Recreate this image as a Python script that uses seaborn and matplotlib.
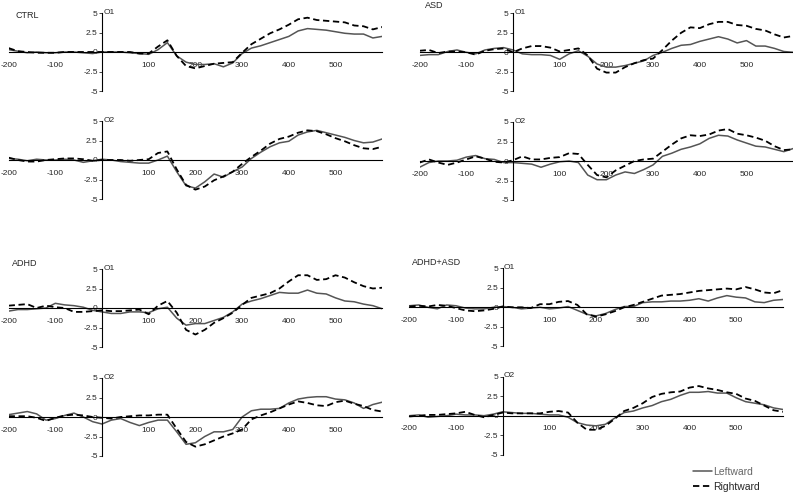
import numpy as np
import pandas as pd
import matplotlib
matplotlib.use("Agg")
import matplotlib.pyplot as plt
from matplotlib.lines import Line2D
import seaborn as sns

# time axis (ms) and ERP amplitudes
time_ms = list(range(-200, 601, 20))

ctrl_o1_left = [0.3, 0.1, -0.1, 0.0, -0.1, -0.1, 0.0, 0.0, -0.1, -0.2, 0.0, 0.0, 0.0, -0.1, -0.2, -0.3,
                0.3, 1.2, -0.5, -1.3, -1.6, -1.6, -1.5, -1.9, -1.4, -0.2, 0.5, 0.8, 1.2, 1.6, 2.0,
                2.7, 3.0, 2.9, 2.8, 2.6, 2.4, 2.3, 2.3, 1.8, 2.0]
ctrl_o1_right = [0.5, 0.1, 0.0, -0.1, -0.1, -0.1, 0.0, 0.0, 0.0, 0.0, 0.0, 0.0, 0.0, 0.0, -0.2, -0.2,
                 0.7, 1.5, -0.5, -1.8, -2.1, -1.8, -1.5, -1.4, -1.3, -0.1, 1.0, 1.7, 2.4, 2.9, 3.5,
                 4.2, 4.4, 4.1, 4.0, 3.9, 3.8, 3.4, 3.3, 2.9, 3.2]
ctrl_o2_left = [0.2, 0.1, -0.1, 0.1, 0.0, 0.0, 0.1, 0.0, -0.3, -0.1, 0.1, 0.0, -0.2, -0.3, -0.4, -0.4,
                0.0, 0.5, -1.5, -3.3, -3.6, -2.8, -1.8, -2.2, -1.5, -0.9, 0.2, 1.0, 1.7, 2.2, 2.4,
                3.2, 3.6, 3.8, 3.5, 3.2, 2.9, 2.5, 2.2, 2.3, 2.7]
ctrl_o2_right = [0.3, 0.0, -0.2, -0.2, 0.0, 0.1, 0.2, 0.2, 0.1, -0.1, 0.0, 0.0, 0.0, -0.1, 0.0, 0.1,
                 0.9, 1.1, -1.2, -3.2, -3.8, -3.4, -2.6, -2.1, -1.5, -0.5, 0.4, 1.2, 2.1, 2.7, 3.0,
                 3.5, 3.8, 3.7, 3.3, 2.8, 2.4, 1.9, 1.5, 1.4, 1.7]

asd_o1_left = [-0.4, -0.3, -0.3, 0.1, 0.3, 0.0, -0.2, 0.3, 0.5, 0.6, 0.3, -0.2, -0.3, -0.3, -0.4, -0.9,
               -0.2, 0.2, -0.5, -1.5, -1.9, -1.9, -1.7, -1.4, -1.1, -0.4, 0.0, 0.5, 0.9, 1.0, 1.4,
               1.7, 2.0, 1.7, 1.2, 1.5, 0.8, 0.8, 0.5, 0.1, 0.0]
asd_o1_right = [0.2, 0.3, -0.1, 0.1, 0.1, 0.0, -0.3, 0.2, 0.4, 0.5, 0.0, 0.5, 0.8, 0.8, 0.6, 0.1,
                0.3, 0.5, -0.4, -2.1, -2.6, -2.6, -1.9, -1.4, -1.0, -0.8, 0.3, 1.5, 2.5, 3.2, 3.1,
                3.6, 3.9, 3.9, 3.5, 3.4, 3.0, 2.8, 2.3, 1.9, 2.1]
asd_o2_left = [-0.8, -0.2, 0.0, 0.0, 0.1, 0.5, 0.7, 0.3, 0.2, -0.2, -0.2, -0.3, -0.4, -0.8, -0.4, -0.1,
               0.0, -0.2, -1.8, -2.4, -2.4, -1.8, -1.4, -1.6, -1.1, -0.5, 0.6, 1.0, 1.5, 1.8, 2.2,
               2.9, 3.3, 3.2, 2.7, 2.3, 1.9, 1.8, 1.5, 1.2, 1.6]
asd_o2_right = [-0.2, 0.2, -0.2, -0.5, -0.2, 0.2, 0.6, 0.3, -0.1, -0.2, 0.1, 0.6, 0.2, 0.2, 0.4, 0.5,
                1.0, 0.9, -0.5, -1.8, -2.1, -1.2, -0.6, 0.0, 0.2, 0.3, 1.2, 2.1, 2.9, 3.3, 3.2,
                3.4, 3.9, 4.1, 3.5, 3.3, 3.0, 2.6, 1.9, 1.4, 1.5]

adhd_o1_left = [-0.4, -0.2, -0.2, -0.1, 0.0, 0.6, 0.4, 0.3, 0.1, -0.3, -0.5, -0.7, -0.7, -0.5, -0.5, -0.6,
                -0.1, 0.1, -1.3, -2.2, -2.0, -2.0, -1.6, -1.2, -0.5, 0.5, 0.9, 1.2, 1.6, 2.0, 1.9,
                1.9, 2.3, 1.9, 1.8, 1.3, 0.9, 0.8, 0.5, 0.3, -0.1]
adhd_o1_right = [0.3, 0.4, 0.5, 0.0, 0.3, 0.1, 0.0, -0.5, -0.5, -0.4, -0.3, -0.4, -0.4, -0.3, -0.2, -0.8,
                 0.3, 0.9, -0.6, -2.8, -3.4, -2.8, -1.9, -1.3, -0.6, 0.4, 1.3, 1.6, 1.9, 2.5, 3.4,
                 4.2, 4.2, 3.6, 3.7, 4.2, 3.9, 3.3, 2.8, 2.5, 2.6]
adhd_o2_left = [0.3, 0.5, 0.7, 0.4, -0.4, -0.2, 0.2, 0.5, 0.0, -0.6, -0.9, -0.4, -0.2, -0.7, -1.1, -0.7,
                -0.4, -0.4, -1.9, -3.5, -3.3, -2.5, -1.9, -1.9, -1.6, 0.0, 0.8, 1.0, 1.0, 1.1, 1.8,
                2.3, 2.5, 2.6, 2.6, 2.3, 2.2, 1.8, 1.1, 1.6, 1.9]
adhd_o2_right = [0.1, 0.1, 0.1, -0.1, -0.5, -0.1, 0.2, 0.3, 0.2, 0.0, -0.1, -0.2, 0.0, 0.1, 0.2, 0.2,
                 0.3, 0.3, -1.5, -3.2, -3.8, -3.5, -3.0, -2.5, -2.1, -1.6, -0.3, 0.2, 0.6, 1.1, 1.6,
                 2.0, 1.8, 1.5, 1.4, 1.9, 2.1, 1.7, 1.4, 0.9, 0.7]

both_o1_left = [0.2, 0.3, 0.0, -0.2, 0.3, 0.2, -0.1, -0.2, -0.2, 0.0, 0.1, 0.0, -0.2, -0.1, 0.0, -0.2,
                -0.1, 0.1, -0.4, -0.9, -1.1, -0.8, -0.3, 0.1, 0.1, 0.6, 0.7, 0.7, 0.8, 0.8, 0.9,
                1.1, 0.8, 1.2, 1.5, 1.3, 1.2, 0.7, 0.6, 0.9, 1.0]
both_o1_right = [0.1, 0.2, 0.1, 0.3, 0.2, -0.1, -0.4, -0.5, -0.4, -0.2, 0.1, 0.0, 0.0, -0.1, 0.4, 0.4,
                 0.7, 0.8, 0.3, -0.9, -1.2, -0.9, -0.5, 0.0, 0.3, 0.7, 1.1, 1.5, 1.6, 1.7, 1.9,
                 2.1, 2.2, 2.3, 2.4, 2.3, 2.6, 2.3, 1.9, 1.8, 2.2]
both_o2_left = [0.0, 0.1, -0.2, -0.1, 0.0, 0.2, 0.1, 0.1, 0.0, 0.2, 0.5, 0.4, 0.3, 0.3, 0.2, 0.1,
                0.1, -0.2, -0.9, -1.2, -1.3, -1.1, -0.3, 0.4, 0.6, 1.0, 1.3, 1.8, 2.1, 2.6, 3.0,
                3.0, 3.1, 2.9, 2.9, 2.3, 1.8, 1.6, 1.4, 1.0, 0.8]
both_o2_right = [-0.1, 0.0, 0.1, 0.1, 0.2, 0.3, 0.5, 0.1, -0.2, 0.1, 0.4, 0.3, 0.3, 0.3, 0.3, 0.5,
                 0.6, 0.4, -0.9, -1.8, -1.8, -1.3, -0.4, 0.6, 1.0, 1.6, 2.4, 2.8, 3.0, 3.1, 3.6,
                 3.8, 3.5, 3.3, 3.0, 2.8, 2.2, 1.9, 1.3, 0.7, 0.5]

groups = ["CTRL", "ASD", "ADHD", "ADHD+ASD"]
channels = ["O1", "O2"]
directions = ["Leftward", "Rightward"]
x_ticks = [-200, -100, 100, 200, 300, 400, 500]
y_ticks = [-5, -2.5, 0, 2.5, 5]
y_tick_labels = ["-5", "-2.5", "0", "2.5", "5"]

series = {
    ("CTRL", "O1"): (ctrl_o1_left, ctrl_o1_right),
    ("CTRL", "O2"): (ctrl_o2_left, ctrl_o2_right),
    ("ASD", "O1"): (asd_o1_left, asd_o1_right),
    ("ASD", "O2"): (asd_o2_left, asd_o2_right),
    ("ADHD", "O1"): (adhd_o1_left, adhd_o1_right),
    ("ADHD", "O2"): (adhd_o2_left, adhd_o2_right),
    ("ADHD+ASD", "O1"): (both_o1_left, both_o1_right),
    ("ADHD+ASD", "O2"): (both_o2_left, both_o2_right),
}

rows = []
for (g, ch), (left, right) in series.items():
    for d, vals in zip(directions, (left, right)):
        for t, v in zip(time_ms, vals):
            rows.append({"group": g, "channel": ch, "direction": d, "time": t, "amp": v})
df = pd.DataFrame(rows)

sns.set_style("white")
plt.rcParams["font.family"] = ["Liberation Sans", "DejaVu Sans"]

W, H = 793, 497
fig = plt.figure(figsize=(W / 100, H / 100), dpi=100)

# panel placement in pixels: (x of t=0, y of amp=0)
px_per_ms = 0.467
half_h = 39
origins = {
    ("CTRL", "O1"): (102, 52), ("CTRL", "O2"): (102, 160),
    ("ASD", "O1"): (513, 52.3), ("ASD", "O2"): (513, 161),
    ("ADHD", "O1"): (102, 308), ("ADHD", "O2"): (102, 417),
    ("ADHD+ASD", "O1"): (502.7, 307.3), ("ADHD+ASD", "O2"): (502.7, 415.7),
}

palette = {"Leftward": "#555555", "Rightward": "black"}
dashes = {"Leftward": "", "Rightward": (3.5, 2)}

for (g, ch), (x0, y0) in origins.items():
    left_px = x0 - 200 * px_per_ms
    width_px = 800 * px_per_ms
    ax = fig.add_axes([left_px / W, 1 - (y0 + half_h) / H, width_px / W, 2 * half_h / H])
    sub = df[(df.group == g) & (df.channel == ch)]
    for d in directions:
        s = sub[sub.direction == d]
        sns.lineplot(data=s, x="time", y="amp", ax=ax, color=palette[d],
                     lw=1.1 if d == "Leftward" else 1.3, legend=False)
        if d == "Rightward":
            ax.lines[-1].set_dashes(dashes[d])
    ax.set_xlim(-200, 600)
    ax.set_ylim(-5, 5)
    ax.patch.set_alpha(0)
    for sp in ["top", "right"]:
        ax.spines[sp].set_visible(False)
    ax.spines["left"].set_position(("data", 0))
    ax.spines["bottom"].set_position(("data", 0))
    for sp in ["left", "bottom"]:
        ax.spines[sp].set_linewidth(0.8)
        ax.spines[sp].set_color("black")
    ax.set_xticks(x_ticks)
    ax.set_xticklabels([str(t) for t in x_ticks])
    ax.set_yticks(y_ticks)
    ax.set_yticklabels(y_tick_labels)
    ax.tick_params(axis="x", length=2, width=0.6, pad=5, labelsize=6, direction="out")
    ax.tick_params(axis="y", length=2, width=0.6, pad=1, labelsize=6, direction="out", left=True)
    ax.set_xlabel("")
    ax.set_ylabel("")
    ax.text(3, 5.1, ch, fontsize=6, ha="left", va="center")

# group labels
label_pos = {"CTRL": (15, 15.5), "ASD": (425, 6), "ADHD": (12, 263), "ADHD+ASD": (412, 262.5)}
for g, (x, y) in label_pos.items():
    fig.text(x / W, 1 - y / H, g, fontsize=6.5, ha="left", va="center")

handles = [Line2D([], [], color=palette["Leftward"], lw=1.1),
           Line2D([], [], color="black", lw=1.3, dashes=dashes["Rightward"])]
leg = fig.legend(handles, directions, loc="upper left", bbox_to_anchor=(693 / W, 1 - 467 / H),
                 frameon=False, fontsize=7.5, handlelength=1.8, handletextpad=0.15,
                 labelspacing=0.45, borderpad=0, borderaxespad=0)
leg.get_texts()[0].set_color("#666666")

fig.savefig("out.png", dpi=100)
